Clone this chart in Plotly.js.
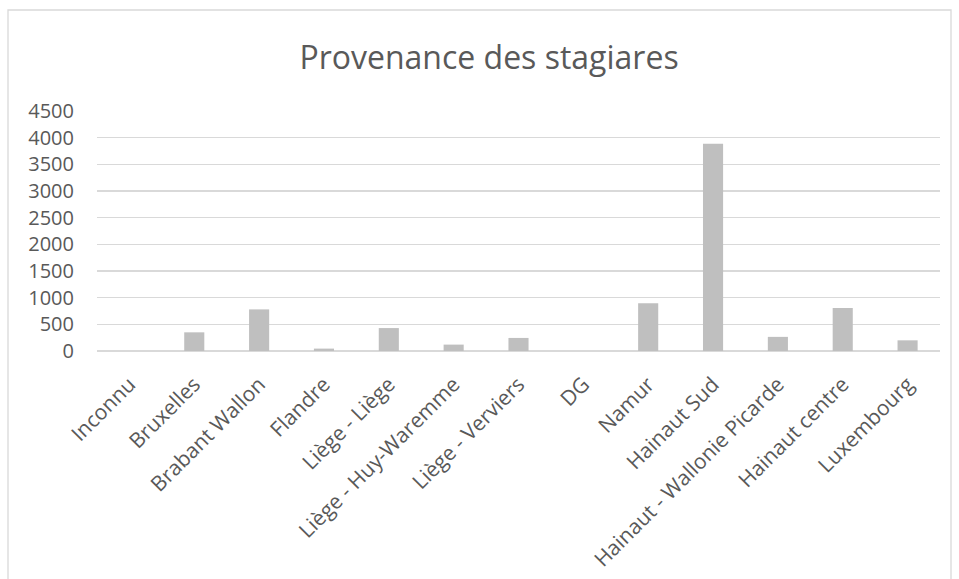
<!DOCTYPE html>
<html>
<head>
<meta charset="utf-8">
<script src="https://cdn.plot.ly/plotly-3.0.1.min.js"></script>
<style>html,body{margin:0;padding:0;background:#fff;}#chart{width:959px;height:579px;}</style>
</head>
<body>
<div id="chart"></div>
<script>
const categories = ["Inconnu","Bruxelles","Brabant Wallon","Flandre","Liège - Liège","Liège - Huy-Waremme","Liège - Verviers","DG","Namur","Hainaut Sud","Hainaut - Wallonie Picarde","Hainaut centre","Luxembourg"];
const values = [0, 350, 780, 45, 430, 120, 245, 0, 895, 3885, 265, 805, 200];
const yTicks = [0,500,1000,1500,2000,2500,3000,3500,4000,4500];

const W = 959, H = 579;
const m = {l: 97, r: 19, t: 111, b: 228};
const pw = W - m.l - m.r, ph = H - m.t - m.b;
// chart-area frame in paper coordinates
const fx0 = (8 - m.l) / pw, fx1 = (951 - m.l) / pw;
const fy1 = (H - 10 - m.b) / ph, fy0 = (H - 600 - m.b) / ph;

const data = [{
  type: 'bar',
  x: categories,
  y: values,
  marker: {color: '#bfbfbf', line: {width: 0}},
  hoverinfo: 'x+y'
}];

const layout = {
  width: W, height: H,
  margin: m,
  paper_bgcolor: '#ffffff',
  plot_bgcolor: '#ffffff',
  font: {family: 'Open Sans, sans-serif', color: '#595959', size: 20},
  title: {text: 'Provenance des stagiares', x: 489 / W, xref: 'container', xanchor: 'center', y: 1 - 58/H, yanchor: 'middle', font: {size: 32, color: '#595959', family: 'Open Sans, sans-serif'}},
  bargap: 0.69,
  showlegend: false,
  xaxis: {
    type: 'category',
    tickangle: -45,
    showgrid: false,
    showline: false,
    zeroline: false,
    ticks: '',
    ticklabelstandoff: 16,
    tickfont: {size: 21, color: '#595959'},
    automargin: false
  },
  yaxis: {
    range: [0, 4500],
    tickvals: yTicks,
    ticktext: yTicks.map(String),
    showgrid: true,
    gridcolor: '#d9d9d9',
    gridwidth: 1.3,
    zeroline: true,
    zerolinecolor: '#d9d9d9',
    zerolinewidth: 1.3,
    showline: false,
    ticks: '',
    ticklabelstandoff: 22,
    tickfont: {size: 20, color: '#595959'},
    automargin: false
  },
  shapes: [{
    type: 'rect', xref: 'paper', yref: 'paper',
    x0: fx0, x1: fx1, y0: fy0, y1: fy1,
    line: {color: '#d9d9d9', width: 1.3}, fillcolor: 'rgba(0,0,0,0)', layer: 'below'
  }]
};

Plotly.newPlot('chart', data, layout, {displayModeBar: false, staticPlot: true});
</script>
</body>
</html>
